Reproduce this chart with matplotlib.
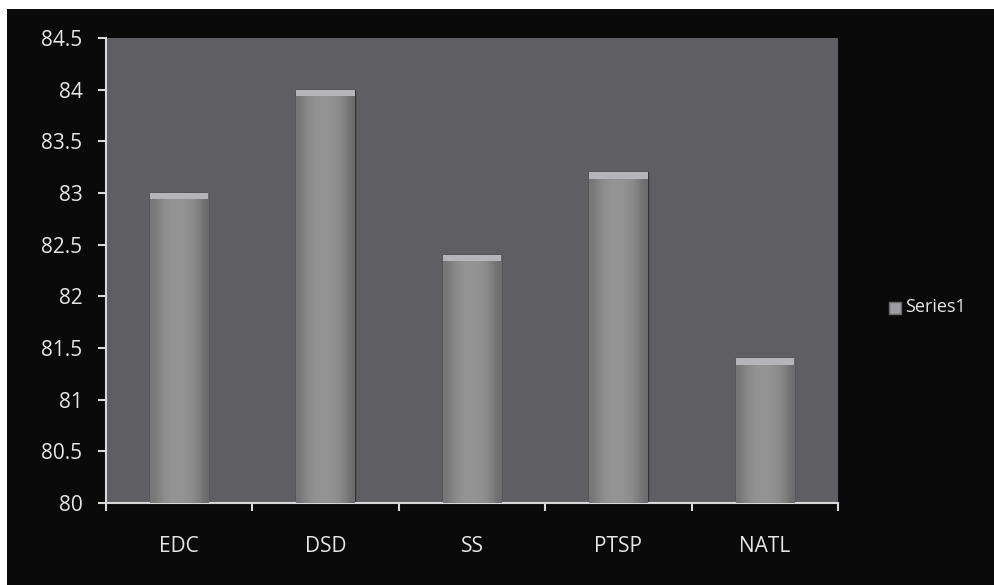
import numpy as np
import matplotlib.pyplot as plt
from matplotlib.patches import Rectangle

categories = ["EDC", "DSD", "SS", "PTSP", "NATL"]
values = [83.0, 84.0, 82.4, 83.2, 81.4]
series_name = "Series1"
y_ticks = [80, 80.5, 81, 81.5, 82, 82.5, 83, 83.5, 84, 84.5]

plt.rcParams['font.family'] = ['Open Sans', 'DejaVu Sans']

W, H = 995, 585
fig = plt.figure(figsize=(W / 100, H / 100), dpi=100, facecolor='white')
# dark chart area (scan has a thin white margin top/left)
fig.patches.append(Rectangle((7 / W, 0), 1 - 7 / W, 1 - 9 / H, transform=fig.transFigure,
                             facecolor='#0b0a0b', edgecolor='none', zorder=-5))

ax = fig.add_axes([106 / W, 1 - 503 / H, (838 - 106) / W, (503 - 38) / H])
ax.set_facecolor('#5f5e62')

x = np.arange(len(categories))
bars = ax.bar(x, values, width=0.4, bottom=0, color='#838287', edgecolor='#323134',
              linewidth=1.0, zorder=2)

# horizontal gradient inside each bar + light cap at the top
grad = np.array([[0.46, 0.52, 0.56, 0.58, 0.58, 0.57, 0.55, 0.50, 0.42]])
for b in bars:
    x0, w, h = b.get_x(), b.get_width(), b.get_height()
    im = ax.imshow(grad, cmap='gray', vmin=0, vmax=1, aspect='auto',
                   extent=(x0, x0 + w, 80, h), zorder=3, interpolation='bicubic')
    im.set_clip_path(b)
    ax.add_patch(Rectangle((x0, h - 0.06), w, 0.06, facecolor='#b5b4b9',
                           edgecolor='none', zorder=4))

ax.set_xlim(-0.5, len(categories) - 0.5)
ax.set_ylim(80, 84.5)
ax.set_yticks(y_ticks)
ax.set_yticklabels([f"{v:g}" for v in y_ticks])
ax.set_xticks(x)
ax.set_xticklabels(categories)
ax.set_xticks(np.arange(len(categories) + 1) - 0.5, minor=True)
ax.tick_params(axis='x', which='major', length=0, pad=24, labelsize=15, labelcolor='#e6e6e6')
ax.tick_params(axis='x', which='minor', length=6, color='#d8d8d8', width=1.5)
ax.tick_params(axis='y', length=6, color='#d8d8d8', width=1.5, labelsize=15,
               labelcolor='#e6e6e6', pad=11)

for s in ['top', 'right']:
    ax.spines[s].set_visible(False)
for s in ['left', 'bottom']:
    ax.spines[s].set_color('#d8d8d8')
    ax.spines[s].set_linewidth(1.5)

# legend
fig.patches.append(Rectangle((889 / W, 1 - 314 / H), 12 / W, 12 / H, transform=fig.transFigure,
                             facecolor='#9e9da2', edgecolor='#6a696c', zorder=5))
fig.text(905 / W, 1 - 307 / H, series_name, color='#e6e6e6', fontsize=13, va='center')

fig.savefig("out.png", dpi=100, facecolor=fig.get_facecolor())
